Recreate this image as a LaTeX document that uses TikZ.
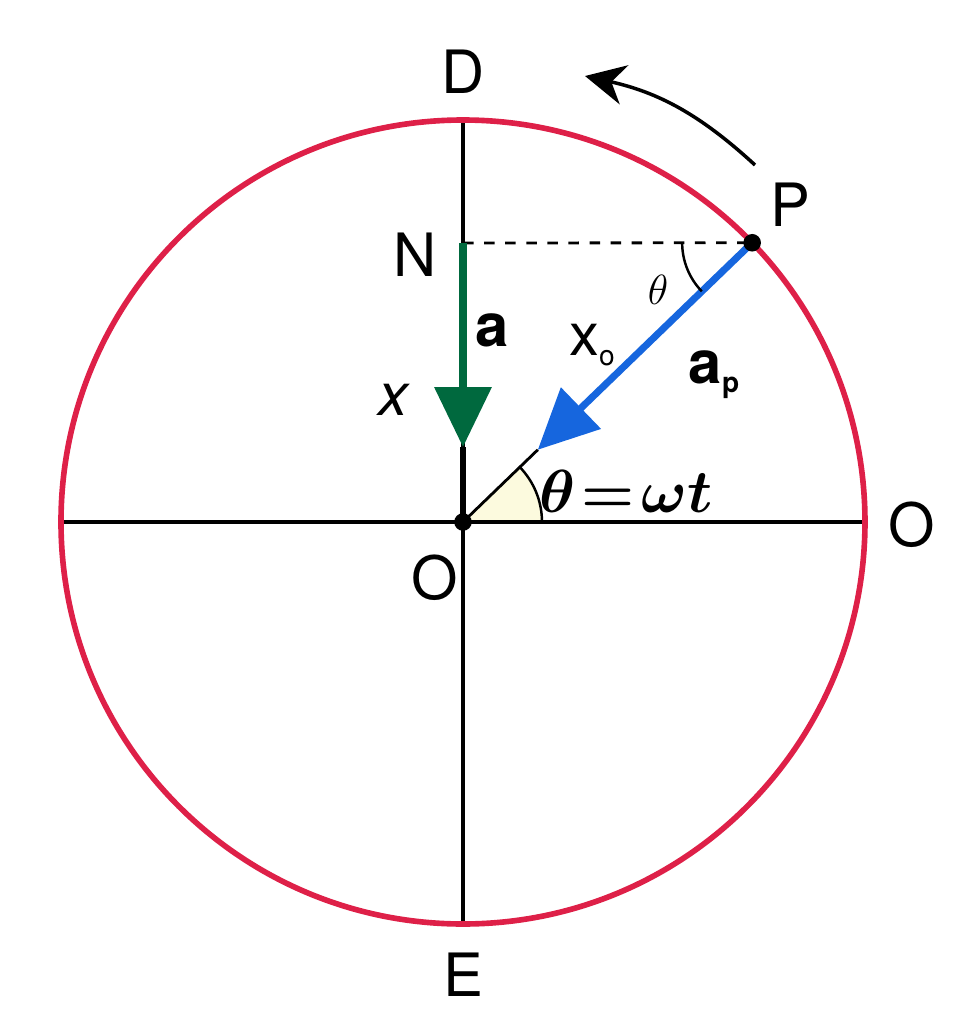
\documentclass[tikz,border=0pt]{standalone}
\usepackage{bm}
\usepackage{fontspec}
\setsansfont{TeX Gyre Heros}
\usetikzlibrary{arrows.meta,calc}
\definecolor{ringred}{RGB}{222,32,72}
\definecolor{accgreen}{RGB}{0,105,62}
\definecolor{accblue}{RGB}{22,102,222}
\definecolor{angfill}{RGB}{252,250,222}
\tikzset{
  lbl/.style={font=\sffamily\fontsize{17}{19}\selectfont},
  axis/.style={line width=1pt},
  dot/.style={circle, fill, inner sep=0pt, minimum size=#1}
}
\begin{document}
\begin{tikzpicture}[scale=1]
        \useasboundingbox (-4.63,-4.90) rectangle (4.90,5.22);
        % angle shading
        \fill[angfill] (0,0) -- (0.79,0) arc (0:44:0.79) -- cycle;
        % Nodes
        \coordinate (O) at (0,0);
        \coordinate (D) at (0,4.03);
        \coordinate (E) at (0,-4.03);
        \coordinate (W) at (-4.02,0);
        \coordinate (R) at (4.02,0);
        \coordinate (P) at (44:4.02);
        \coordinate (N) at (0,2.79);
        \coordinate (gtip) at (0,0.75);
        \coordinate (btip) at (44:1.04);
        \coordinate (rotA) at (2.92,3.57);
        \coordinate (rotB) at (1.22,4.46);
        % Edges
        \draw[axis] (W) -- (R);
        \draw[axis] (D) -- (E);
        \draw[ringred, line width=1.6pt] (O) circle (4.02);
        \draw[dashed, line width=0.8pt] (N) -- (P);
        \draw[line width=1.6pt] (O) -- (gtip);
        \draw[line width=0.8pt] (O) -- (btip);
        \draw[accgreen, line width=2pt, -{Triangle[length=6mm, width=5.6mm]}] (N) -- (gtip);
        \draw[accblue, line width=2pt, -{Triangle[length=6mm, width=5.6mm]}] (P) -- (btip);
        \draw[line width=0.7pt] (0.79,0) arc (0:44:0.79);
        \draw[line width=0.7pt] ($(P)+(180:0.7)$) arc (180:224:0.7);
        \draw[line width=1pt, -{Stealth[length=4mm, width=4mm]}] (rotA) to[bend right=15] (rotB);
        \node[dot=5pt] (Odot) at (O) {};
        \node[dot=5pt] (Pdot) at (P) {};
        % Labels
        \node[lbl] (lD) at (0,4.50) {D};
        \node[lbl] (lE) at (0,-4.53) {E};
        \node[lbl] (lR) at (4.49,-0.03) {O};
        \node[lbl] (lO) at (-0.28,-0.56) {O};
        \node[lbl] (lP) at (3.27,3.17) {P};
        \node[lbl] (lN) at (-0.48,2.67) {N};
        \node[lbl] (la) at (0.29,1.92) {\bfseries a};
        \node[lbl] (lx) at (-0.70,1.22) {\itshape x};
        \node[lbl] (lxo) at (1.30,1.77) {x\textsubscript{\fontsize{8}{9}\selectfont o}};
        \node[lbl] (lap) at (2.52,1.47) {\bfseries a\textsubscript{\fontsize{8}{9}\selectfont p}};
        \node (lth) at (1.95,2.32) {\fontsize{12}{14}\selectfont$\theta$};
        \node (lwt) at (1.63,0.31) {\fontsize{16}{18}\selectfont$\bm{\theta}\!\bm{=}\!\bm{\omega t}$};
      \end{tikzpicture}
\end{document}
